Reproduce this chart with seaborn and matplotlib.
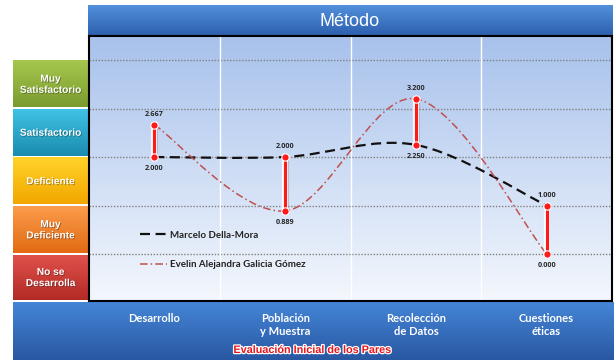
import numpy as np
import pandas as pd
import seaborn as sns
import matplotlib.pyplot as plt
import matplotlib.patheffects as pe
from matplotlib.path import Path
from matplotlib.patches import PathPatch
from matplotlib.lines import Line2D
from matplotlib.colors import to_rgb

# datos
categories = ["Desarrollo", "Población\ny Muestra", "Recolección\nde Datos", "Cuestiones\néticas"]
marcelo = [2.000, 2.000, 2.250, 1.000]
evelin = [2.667, 0.889, 3.200, 0.000]
series_names = ["Marcelo Della-Mora", "Evelin Alejandra Galicia Gómez"]
levels = ["No se\nDesarrolla", "Muy\nDeficiente", "Deficiente", "Satisfactorio", "Muy\nSatisfactorio"]
level_colors = [("#e0514b", "#b22a26"), ("#fb9c4c", "#e26a12"), ("#ffd32a", "#f2a700"),
                ("#3fc2e4", "#1b8cae"), ("#a6c84e", "#7a9a2e")]
title = "Método"
subtitle = "Evaluación Inicial de los Pares"

W, H = 615, 362


def box(x0, y0, x1, y1):
    return [x0 / W, 1 - y1 / H, (x1 - x0) / W, (y1 - y0) / H]


def gradient(ax, extent, top, bottom, zorder=0):
    t = np.linspace(0, 1, 64)[:, None, None]
    arr = (1 - t) * np.array(to_rgb(top)) + t * np.array(to_rgb(bottom))
    ax.imshow(arr, extent=extent, aspect="auto", origin="upper", zorder=zorder,
              interpolation="bicubic")


def smooth_path(xs, ys):
    # curva suavizada tipo Excel (bezier por tramos)
    pts = np.column_stack([xs, ys]).astype(float)
    n = len(pts)
    verts, codes = [pts[0]], [Path.MOVETO]
    for i in range(n - 1):
        p0 = pts[i - 1] if i > 0 else pts[i]
        p1, p2 = pts[i], pts[i + 1]
        p3 = pts[i + 2] if i + 2 < n else pts[i + 1]
        verts += [p1 + (p2 - p0) / 6, p2 - (p3 - p1) / 6, p2]
        codes += [Path.CURVE4] * 3
    return Path(verts, codes)


sns.set_theme(style="white")
plt.rcParams["font.family"] = ["Liberation Sans", "DejaVu Sans"]

fig = plt.figure(figsize=(6.15, 3.62), dpi=100)

# fondo / barras decorativas
canvas = fig.add_axes([0, 0, 1, 1], zorder=0)
gradient(canvas, (88, 613, 36, 5), "#5290dc", "#2c5fae")
gradient(canvas, (13, 614, 360, 302), "#4485d6", "#2958a3")
canvas.set_xlim(0, W)
canvas.set_ylim(H, 0)
canvas.axis("off")
canvas.text(350, 21, title, ha="center", va="center", color="white", fontsize=13)
canvas.text(313, 350, subtitle, ha="center", va="center", color="#e8151d",
            fontsize=7.8, fontweight="bold",
            path_effects=[pe.withStroke(linewidth=1.8, foreground="white")])

# grafico principal
ylo, yhi = -0.969, 4.495
x = np.arange(len(categories))
ax = fig.add_axes(box(89, 36, 612, 301), zorder=2)
gradient(ax, (-0.5, len(categories) - 0.5, ylo, yhi), "#a8c2ec", "#f3f7fd")
for v in range(len(levels)):
    ax.axhline(v, color="#808080", lw=1, ls=(0, (1, 1.2)), zorder=1)
for v in x[:-1] + 0.5:
    ax.axvline(v, color="white", lw=1, zorder=1)

ax.add_patch(PathPatch(smooth_path(x, marcelo), fill=False, edgecolor="#111111",
                       lw=1.6, ls=(0, (4.5, 2.5)), zorder=3))
ax.add_patch(PathPatch(smooth_path(x, evelin), fill=False, edgecolor="#c0504d",
                       lw=1.1, ls=(0, (5, 2, 1, 2)), zorder=3))

lows = np.minimum(marcelo, evelin)
highs = np.maximum(marcelo, evelin)
ax.vlines(x, lows, highs, colors="#ff1a1a", lw=2.2, zorder=4,
          path_effects=[pe.SimpleLineShadow(offset=(1.2, -1), shadow_color="gray", alpha=0.4),
                        pe.Stroke(linewidth=4.5, foreground="white", alpha=0.8), pe.Normal()])

df = pd.DataFrame({"pos": np.concatenate([x, x]), "valor": marcelo + evelin,
                   "serie": [series_names[0]] * len(x) + [series_names[1]] * len(x)})
sns.scatterplot(data=df, x="pos", y="valor", ax=ax, color="#ff1a1a", s=28,
                edgecolor="white", linewidth=0.8, zorder=5, legend=False)

for i in x:
    ax.annotate(f"{highs[i]:.3f}", (i, highs[i]), xytext=(0, 7.5), textcoords="offset points",
                ha="center", va="center", fontsize=5.2, fontweight="bold", family="Open Sans")
    ax.annotate(f"{lows[i]:.3f}", (i, lows[i]), xytext=(0, -8.6), textcoords="offset points",
                ha="center", va="center", fontsize=5.2, fontweight="bold", family="Open Sans")

handles = [Line2D([], [], color="#111111", ls=(0, (4.5, 2.5)), lw=1.6),
           Line2D([], [], color="#c0504d", ls=(0, (5, 2, 1, 2)), lw=1.1)]
ax.legend(handles, series_names, loc="upper left",
          bbox_to_anchor=((140 - 89) / 523, (301 - 231) / 264), frameon=False,
          borderpad=0, borderaxespad=0, handlelength=2.8, handletextpad=0.3,
          labelspacing=2.1, labelcolor="#222222",
          prop={"family": "Lato", "weight": "bold", "size": 7})

ax.set_xlim(-0.5, len(categories) - 0.5)
ax.set_ylim(ylo, yhi)
ax.set_xticks(x)
ax.set_xticklabels(categories, color="white", fontweight="bold", fontsize=8, family="Lato")
ax.tick_params(axis="x", length=0, pad=9)
ax.set_yticks([])
ax.set_xlabel("")
ax.set_ylabel("")
for s in ax.spines.values():
    s.set_visible(True)
    s.set_color("black")
    s.set_linewidth(1.5)

# cajas de niveles a la izquierda
lax = fig.add_axes(box(13, 36, 88, 301), zorder=1)
gap = 0.025
for i, (lab, (ctop, cbot)) in enumerate(zip(levels, level_colors)):
    lo = ylo if i == 0 else i - 1
    hi = i
    gradient(lax, (0, 1, lo + gap, hi - gap), ctop, cbot)
    lax.text(0.5, (lo + hi) / 2, lab, ha="center", va="center", color="white",
             fontsize=7.3, fontweight="bold", linespacing=1.15,
             path_effects=[pe.withSimplePatchShadow(offset=(0.6, -0.6),
                                                    shadow_rgbFace="black", alpha=0.35)])
lax.set_xlim(0, 1)
lax.set_ylim(ylo, yhi)
lax.axis("off")

fig.savefig("out.png", dpi=100)
